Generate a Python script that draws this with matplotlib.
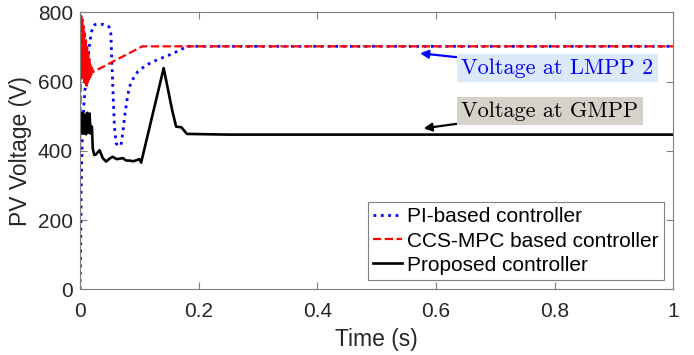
import matplotlib.pyplot as plt
import numpy as np

# PI-based controller (blue dotted)
t_pi = [0, 0.001, 0.002, 0.004, 0.007, 0.010, 0.013, 0.017, 0.021, 0.025, 0.035, 0.045, 0.049,
        0.052, 0.055, 0.058, 0.061, 0.065, 0.069, 0.072, 0.075, 0.079, 0.083, 0.090, 0.097,
        0.104, 0.111, 0.122, 0.134, 0.145, 0.156, 0.168, 0.181, 0.25, 0.5, 0.75, 1.0]
v_pi = [0, 100, 300, 450, 546, 610, 661, 720, 757, 765, 766, 764, 758,
        739, 594, 469, 421, 414, 416, 450, 498, 545, 584, 610, 628,
        638, 647, 657, 666, 673, 681, 691, 702, 702, 702, 702, 702]

# CCS-MPC based controller (red dashed)
t_mpc = [0, 0.0008, 0.0015, 0.002, 0.003, 0.004, 0.005, 0.006, 0.007, 0.008, 0.009, 0.010,
         0.011, 0.012, 0.013, 0.014, 0.015, 0.016, 0.017, 0.018, 0.019, 0.020, 0.022,
         0.105, 0.25, 0.5, 0.75, 1.0]
v_mpc = [400, 520, 700, 790, 620, 780, 610, 760, 600, 740, 592, 720,
         588, 700, 598, 680, 605, 665, 612, 650, 620, 640, 628,
         702, 702, 702, 702, 702]

# Proposed controller (black solid)
t_prop = [0, 0.002, 0.004, 0.006, 0.008, 0.010, 0.012, 0.014, 0.016, 0.018, 0.020,
          0.0215, 0.024, 0.027, 0.033, 0.038, 0.044, 0.050, 0.055, 0.062, 0.072, 0.078,
          0.083, 0.090, 0.100, 0.103, 0.141, 0.155, 0.162, 0.171, 0.180, 0.25, 0.5, 0.75, 1.0]
v_prop = [505, 455, 510, 450, 505, 448, 510, 452, 508, 450, 470,
          407, 388, 390, 402, 380, 369, 378, 383, 376, 379, 372,
          372, 370, 376, 366, 639, 520, 470, 468, 449, 447, 447, 447, 447]

labels = ['PI-based controller', 'CCS-MPC based controller', 'Proposed controller']

plt.rcParams['font.family'] = ['Liberation Sans', 'DejaVu Sans']

fig = plt.figure(figsize=(6.94, 3.55), dpi=100)
ax = fig.add_axes([0.1153, 0.185, 0.855, 0.78])

ax.plot(t_pi, v_pi, ':', color='blue', lw=2, label=labels[0])
ax.plot(t_mpc, v_mpc, '--', color='red', lw=1.6, label=labels[1])
ax.plot(t_prop, v_prop, '-', color='black', lw=1.9, label=labels[2])

ax.set_xlim(0, 1)
ax.set_ylim(0, 800)
ax.set_xticks([0, 0.2, 0.4, 0.6, 0.8, 1])
ax.set_xticklabels(['0', '0.2', '0.4', '0.6', '0.8', '1'])
ax.set_yticks([0, 200, 400, 600, 800])
ax.tick_params(direction='in', top=True, right=True, length=5, width=0.8,
               colors='#808080', labelcolor='#262626', labelsize=15)
ax.tick_params(axis='x', pad=9)
ax.tick_params(axis='y', pad=5)
for s in ax.spines.values():
    s.set_color('#808080')
    s.set_linewidth(0.8)
ax.set_xlabel('Time (s)', fontsize=16.5, color='#262626', labelpad=5)
ax.set_ylabel('PV Voltage (V)', fontsize=16.5, color='#262626', labelpad=4)

ax.annotate('Voltage at LMPP 2', xy=(0.573, 682), xytext=(0.642, 640),
            fontsize=16, fontfamily='cmr10', color='blue', va='center', ha='left',
            bbox=dict(boxstyle='square,pad=0.2', fc='#dce9f9', ec='none'),
            arrowprops=dict(arrowstyle='-|>', color='blue', lw=1.6, mutation_scale=12,
                            shrinkA=0, shrinkB=0))
ax.annotate('Voltage at GMPP', xy=(0.579, 465), xytext=(0.642, 515),
            fontsize=16, fontfamily='cmr10', color='black', va='center', ha='left',
            bbox=dict(boxstyle='square,pad=0.2', fc='#d6d2c9', ec='none'),
            arrowprops=dict(arrowstyle='-|>', color='black', lw=1.6, mutation_scale=12,
                            shrinkA=0, shrinkB=0))

leg = ax.legend(loc='lower right', fontsize=15, handlelength=1.4, handletextpad=0.25,
                labelspacing=0.25, borderpad=0.25, borderaxespad=0.45, fancybox=False,
                framealpha=1)
leg.get_frame().set_edgecolor('#808080')
leg.get_frame().set_linewidth(0.8)

fig.savefig('out.png', dpi=100)
